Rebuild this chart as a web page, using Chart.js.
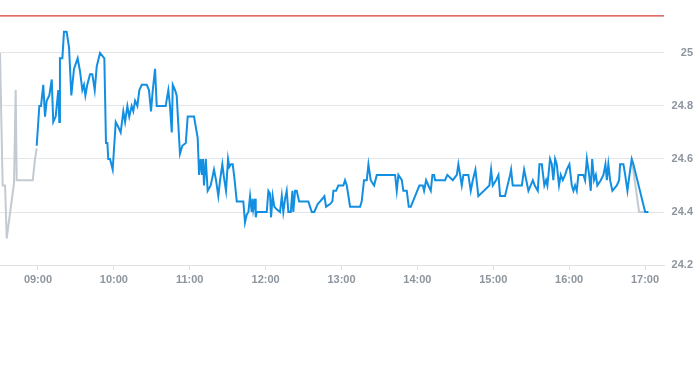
<!DOCTYPE html>
<html>
<head>
<meta charset="utf-8">
<script src="https://cdn.jsdelivr.net/npm/chart.js@4/dist/chart.umd.min.js"></script>
<style>
  html, body { margin: 0; padding: 0; background: #fff; }
  #wrap { width: 693px; height: 285px; }
</style>
</head>
<body>
<div id="wrap"><canvas id="myChart" width="693" height="285"></canvas></div>
<script>
// times are minutes after midnight
const hourLabels = ['09:00', '10:00', '11:00', '12:00', '13:00', '14:00', '15:00', '16:00', '17:00'];
const priceTicks = [24.2, 24.4, 24.6, 24.8, 25];
const limitPrice = 25.14;

const preTimes = [510, 512.1, 514, 515.3, 521.1, 522.4, 523.2, 535.9, 537.7, 539];
const prePrices = [25.00, 24.50, 24.50, 24.30, 24.51, 24.86, 24.52, 24.52, 24.60, 24.64];

const postTimes = [1009.5, 1015.3, 1020.1];
const postPrices = [24.60, 24.40, 24.40];

const sessionTimes = [539.0, 541.1, 542.4, 544.2, 545.6, 546.9, 549.0, 550.9, 552.1, 554.0, 556.1, 556.9, 557.4, 559.3, 560.6, 562.7, 564.6, 566.4, 568.5, 571.4,
  573.3, 575.1, 576.4, 577.5, 579.0, 581.2, 583.0, 584.9, 586.5, 589.1, 592.5, 593.8, 594.9, 595.6, 597.0, 599.1, 601.5, 603.6, 605.4, 607.5,
  608.9, 610.7, 612.2, 614.1, 615.4, 616.8, 618.6, 620.2, 622.1, 626.0, 627.8, 629.4, 630.8, 632.6, 633.9, 641.0, 643.1, 644.4, 645.8, 646.6,
  648.4, 649.7, 652.3, 654.2, 656.9, 658.4, 663.4, 666.3, 667.4, 668.7, 669.7, 670.5, 671.3, 672.7, 674.2, 676.6, 679.2, 680.8, 682.6, 684.0,
  685.8, 687.1, 688.7, 690.3, 691.3, 692.7, 694.0, 695.3, 697.2, 702.4, 703.7, 705.1, 706.4, 707.7, 709.0, 709.8, 710.3, 711.1, 711.7, 712.2,
  713.0, 720.9, 722.2, 723.5, 724.3, 725.6, 726.9, 728.8, 731.4, 732.8, 734.0, 735.4, 736.7, 738.0, 739.9, 741.2, 741.9, 743.3, 744.6, 746.5,
  753.8, 756.5, 758.5, 761.2, 763.1, 764.9, 766.5, 767.8, 771.0, 772.8, 773.6, 775.7, 777.5, 781.5, 782.8, 784.2, 786.8, 794.7, 796.0, 797.8,
  800.0, 801.3, 803.1, 805.8, 807.9, 822.4, 823.7, 825.0, 827.7, 828.9, 831.6, 833.2, 834.8, 838.2, 841.6, 844.3, 845.3, 846.9, 848.7, 850.6,
  851.9, 853.2, 854.0, 861.9, 863.7, 868.0, 871.2, 872.4, 873.8, 875.1, 876.4, 880.3, 882.2, 883.8, 885.9, 888.2, 896.9, 898.3, 899.6, 902.2,
  904.1, 905.4, 909.3, 913.3, 914.1, 915.4, 922.6, 924.4, 927.8, 931.3, 932.8, 935.2, 936.5, 938.4, 940.4, 941.8, 942.8, 944.9, 946.3, 947.5,
  948.9, 950.2, 952.0, 953.4, 955.0, 956.8, 958.1, 960.2, 962.1, 963.4, 964.7, 966.0, 967.3, 971.3, 972.6, 974.0, 975.8, 977.1, 978.2, 979.7,
  981.1, 982.3, 985.0, 987.1, 988.7, 989.8, 991.0, 992.4, 994.2, 997.7, 999.5, 1000.3, 1002.9, 1004.3, 1006.1, 1007.7, 1009.5, 1010.8, 1020.1, 1022.7];
const sessionPrices = [24.65, 24.80, 24.80, 24.88, 24.76, 24.82, 24.84, 24.90, 24.74, 24.76, 24.86, 24.74, 24.98, 24.98, 25.08, 25.08, 25.02, 24.84, 24.94, 24.98,
  24.93, 24.86, 24.88, 24.84, 24.88, 24.92, 24.92, 24.86, 24.95, 25.00, 24.98, 24.66, 24.66, 24.60, 24.60, 24.56, 24.74, 24.72, 24.70, 24.78,
  24.74, 24.80, 24.76, 24.80, 24.78, 24.82, 24.80, 24.86, 24.88, 24.88, 24.86, 24.78, 24.86, 24.94, 24.80, 24.80, 24.86, 24.80, 24.70, 24.88,
  24.86, 24.84, 24.62, 24.65, 24.66, 24.76, 24.76, 24.68, 24.54, 24.60, 24.54, 24.60, 24.50, 24.60, 24.48, 24.50, 24.56, 24.52, 24.46, 24.52,
  24.58, 24.53, 24.48, 24.60, 24.57, 24.58, 24.58, 24.53, 24.44, 24.44, 24.36, 24.39, 24.40, 24.46, 24.40, 24.45, 24.41, 24.43, 24.45, 24.38,
  24.40, 24.40, 24.48, 24.47, 24.38, 24.46, 24.42, 24.41, 24.40, 24.46, 24.40, 24.45, 24.48, 24.40, 24.40, 24.48, 24.40, 24.48, 24.48, 24.44,
  24.44, 24.40, 24.40, 24.43, 24.44, 24.45, 24.46, 24.42, 24.43, 24.44, 24.48, 24.48, 24.50, 24.50, 24.52, 24.50, 24.42, 24.42, 24.44, 24.52,
  24.52, 24.58, 24.52, 24.50, 24.54, 24.54, 24.48, 24.54, 24.52, 24.48, 24.48, 24.42, 24.42, 24.46, 24.50, 24.50, 24.48, 24.52, 24.50, 24.48,
  24.54, 24.54, 24.52, 24.52, 24.54, 24.52, 24.54, 24.58, 24.54, 24.50, 24.54, 24.54, 24.48, 24.52, 24.56, 24.46, 24.50, 24.56, 24.50, 24.52,
  24.54, 24.46, 24.46, 24.54, 24.56, 24.50, 24.50, 24.56, 24.48, 24.52, 24.50, 24.48, 24.58, 24.58, 24.50, 24.52, 24.50, 24.60, 24.58, 24.52,
  24.60, 24.58, 24.50, 24.54, 24.52, 24.54, 24.56, 24.58, 24.50, 24.48, 24.50, 24.48, 24.54, 24.54, 24.52, 24.60, 24.54, 24.48, 24.60, 24.52,
  24.54, 24.50, 24.52, 24.54, 24.58, 24.52, 24.58, 24.52, 24.48, 24.50, 24.52, 24.58, 24.58, 24.54, 24.48, 24.54, 24.60, 24.58, 24.40, 24.40];

const xMin = 510, xMax = 1035;

function toPoints(times, prices) {
    return times.map(function (t, i) { return { x: t, y: prices[i] }; });
}
function toMinutes(label) {
    var p = label.split(':');
    return parseInt(p[0]) * 60 + parseInt(p[1]);
}
// keep the plot area flush with the canvas edges like the original
function noPadding(axis) {
    axis.paddingTop = 0;
    axis.paddingBottom = 0;
    axis.paddingLeft = 0;
    axis.paddingRight = 0;
}

const tickFont = { family: 'Liberation Sans, Arial, sans-serif', size: 11, weight: 'bold' };
const tickColor = '#8d959e';

const ctx = document.getElementById('myChart');
new Chart(ctx, {
    type: 'line',
    data: {
        datasets: [{
            // main session
            data: toPoints(sessionTimes, sessionPrices),
            borderColor: '#138fe2',
            borderWidth: 2,
            pointRadius: 0,
            tension: 0
        }, {
            data: toPoints(preTimes, prePrices),
            borderColor: '#c3cad1',
            borderWidth: 2,
            pointRadius: 0,
            tension: 0
        }, {
            data: toPoints(postTimes, postPrices),
            borderColor: '#c3cad1',
            borderWidth: 2,
            pointRadius: 0,
            tension: 0
        }, {
            // limit line
            data: [{ x: xMin, y: limitPrice }, { x: xMax, y: limitPrice }],
            borderColor: 'rgb(214, 62, 52)',
            borderWidth: 1.2,
            pointRadius: 0,
            tension: 0
        }]
    },
    options: {
        responsive: false,
        animation: false,
        layout: { padding: 0 },
        plugins: {
            legend: { display: false },
            tooltip: { enabled: false }
        },
        scales: {
            x: {
                type: 'linear',
                min: xMin,
                max: xMax,
                afterBuildTicks: function (axis) {
                    axis.ticks = hourLabels.map(function (l) { return { value: toMinutes(l) }; });
                },
                afterFit: function (axis) {
                    axis.height = 20;
                    noPadding(axis);
                },
                grid: { drawOnChartArea: false, drawTicks: true, tickLength: 5, color: '#dfe2e6' },
                border: { display: true, color: '#dfe2e6' },
                ticks: {
                    autoSkip: false,
                    maxRotation: 0,
                    padding: 3,
                    color: tickColor,
                    font: tickFont,
                    callback: function (value) {
                        var h = Math.floor(value / 60), m = value % 60;
                        return (h < 10 ? '0' : '') + h + ':' + (m < 10 ? '0' : '') + m;
                    }
                }
            },
            y: {
                position: 'right',
                min: 24.2,
                max: 25.2,
                afterBuildTicks: function (axis) {
                    axis.ticks = priceTicks.map(function (v) { return { value: v }; });
                },
                afterFit: function (axis) {
                    axis.width = 29;
                    noPadding(axis);
                },
                grid: { drawTicks: false, color: '#e3e5e8' },
                border: { display: false },
                ticks: {
                    padding: 8,
                    crossAlign: 'far',
                    color: tickColor,
                    font: tickFont,
                    callback: function (value) { return String(Math.round(value * 10) / 10); }
                }
            }
        }
    }
});
</script>
</body>
</html>
